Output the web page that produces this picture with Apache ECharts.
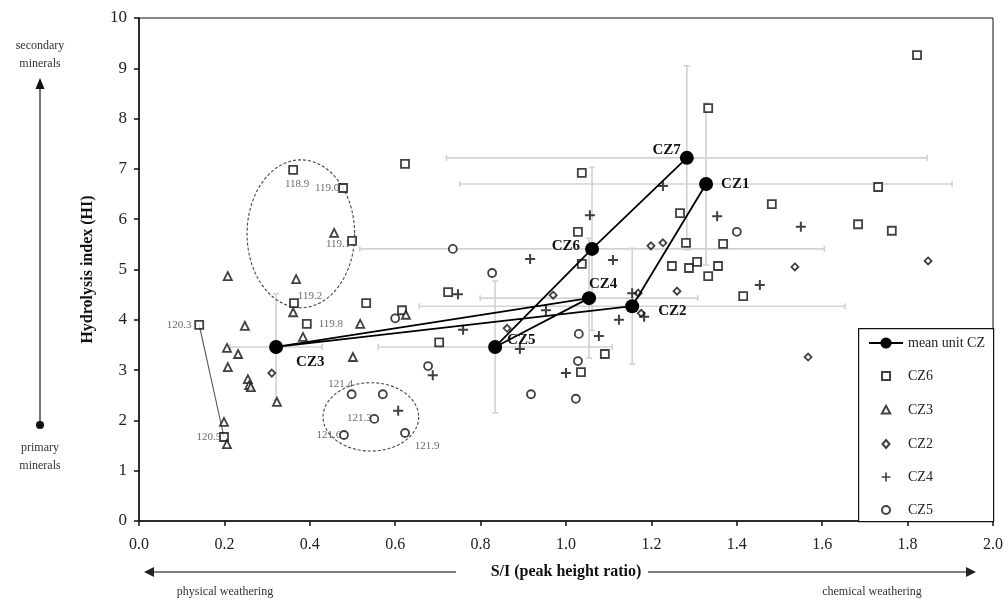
<!DOCTYPE html>
<html>
<head>
<meta charset="utf-8">
<title>Hydrolysis index vs S/I</title>
<script src="https://cdn.jsdelivr.net/npm/echarts@6/dist/echarts.min.js"></script>
<style>
html, body { margin: 0; padding: 0; background: #fff; }
#main { width: 1008px; height: 601px; }
</style>
</head>
<body>
<div id="main"></div>
<script>
// samples per unit: [S/I, HI]
var cz6 = [[1.822, 9.26], [1.333, 8.21], [0.623, 7.10], [0.361, 6.98], [0.478, 6.62], [0.499, 5.57],
  [0.363, 4.33], [0.532, 4.33], [0.393, 3.92], [0.141, 3.90], [0.199, 1.67], [0.616, 4.19],
  [0.703, 3.55], [1.037, 6.92], [1.028, 5.75], [1.037, 5.11], [0.724, 4.55], [1.267, 6.12],
  [1.482, 6.30], [1.281, 5.53], [1.368, 5.51], [1.248, 5.07], [1.288, 5.03], [1.307, 5.15],
  [1.356, 5.07], [1.333, 4.87], [1.415, 4.47], [1.091, 3.32], [1.035, 2.96], [1.684, 5.90],
  [1.731, 6.64], [1.763, 5.77]];
var cz3 = [[0.457, 5.73], [0.208, 4.87], [0.368, 4.81], [0.361, 4.15], [0.248, 3.88], [0.206, 3.44],
  [0.232, 3.32], [0.208, 3.06], [0.255, 2.82], [0.258, 2.70], [0.262, 2.66], [0.323, 2.37],
  [0.384, 3.66], [0.518, 3.92], [0.501, 3.26], [0.625, 4.10], [0.199, 1.97], [0.206, 1.53]];
var cz2 = [[0.311, 2.94], [0.862, 3.83], [0.970, 4.49], [1.199, 5.47], [1.227, 5.53], [1.260, 4.57],
  [1.169, 4.53], [1.176, 4.13], [1.536, 5.05], [1.567, 3.26], [1.848, 5.17]];
var cz4 = [[0.688, 2.90], [0.607, 2.19], [1.056, 6.08], [0.916, 5.21], [1.110, 5.19], [1.227, 6.66],
  [0.747, 4.51], [0.953, 4.19], [0.759, 3.80], [1.155, 4.53], [1.183, 4.06], [1.124, 4.00],
  [1.077, 3.68], [0.892, 3.42], [1.000, 2.94], [1.354, 6.06], [1.550, 5.85], [1.454, 4.69]];
var cz5 = [[0.498, 2.52], [0.571, 2.52], [0.551, 2.03], [0.480, 1.71], [0.623, 1.75], [0.677, 3.08],
  [0.735, 5.41], [0.827, 4.93], [1.030, 3.72], [0.600, 4.03], [1.028, 3.18], [0.918, 2.52],
  [1.023, 2.43], [1.400, 5.75]];

// unit means, in stratigraphic order
var meanNames = ['CZ1', 'CZ2', 'CZ3', 'CZ4', 'CZ5', 'CZ6', 'CZ7'];
var meanX = [1.328, 1.155, 0.321, 1.054, 0.834, 1.061, 1.283];
var meanY = [6.70, 4.27, 3.46, 4.43, 3.46, 5.41, 7.22];
var meanXErr = [0.576, 0.499, 0.108, 0.255, 0.274, 0.544, 0.563];
var meanYErr = [1.61, 1.15, 1.06, 1.19, 1.31, 1.62, 1.83];

// sample numbers written next to some points
var sampleTags = [['118.9', 0.361, 6.98], ['119.0', 0.478, 6.62], ['119.1', 0.499, 5.57],
  ['119.2', 0.363, 4.33], ['119.8', 0.393, 3.92], ['120.3', 0.141, 3.90], ['120.5', 0.199, 1.67],
  ['121.4', 0.498, 2.52], ['121.3', 0.551, 2.03], ['121.6', 0.480, 1.71], ['121.9', 0.623, 1.75]];
var tieLine = [[0.141, 3.90], [0.199, 1.67]];
// dashed ellipses: centre x, centre y, radius x, radius y
var ellipses = [[0.379, 5.71, 0.126, 1.47], [0.543, 2.07, 0.112, 0.68]];

var xTicks = [0, 0.2, 0.4, 0.6, 0.8, 1.0, 1.2, 1.4, 1.6, 1.8, 2.0];
var yTicks = [0, 1, 2, 3, 4, 5, 6, 7, 8, 9, 10];

var serif = '"Liberation Serif", "DejaVu Serif", serif';
var tagOffset = {
  '118.9': [4, 14], '119.0': [-16, 0], '119.1': [-14, 3], '119.2': [16, -7], '119.8': [24, 0],
  '120.3': [-20, 0], '120.5': [-15, 0], '121.4': [-11, -10], '121.3': [-15, -1],
  '121.6': [-15, 0], '121.9': [22, 13]
};
var meanLabel = {
  CZ1: ['right', [3, 0]], CZ2: ['right', [14, 5]], CZ3: ['right', [8, 15]], CZ4: ['top', [14, 5]],
  CZ5: ['right', [0, -7]], CZ6: ['left', [0, -3]], CZ7: ['left', [6, -8]]
};

var pad = 'M0,0M14,14';
var icons = {
  CZ6: 'path://' + pad + 'M3,3h8v8h-8Z',
  CZ3: 'path://' + pad + 'M7,2.8L11.2,10.6H2.8Z',
  CZ2: 'path://' + pad + 'M7,3L10.5,7L7,11L3.5,7Z',
  CZ4: 'path://' + pad + 'M6.2,2.6h1.6v3.6h3.6v1.6h-3.6v3.6h-1.6v-3.6h-3.6v-1.6h3.6Z',
  CZ5: 'path://' + pad + 'M3,7A4,4 0 1 1 11,7A4,4 0 1 1 3,7Z'
};
var plusPath = 'path://M4,0h2v4h4v2h-4v4h-2v-4h-4v-2h4Z';

var emptyStyle = { color: '#fff', borderColor: '#111', borderWidth: 1.8 };

function scatter(name, data, symbol, size, style) {
  return {
    name: name, type: 'scatter', data: data, symbol: symbol, symbolSize: size,
    itemStyle: style, z: 3, emphasis: { disabled: true }
  };
}

var errData = meanNames.map(function (n, i) {
  return [meanX[i], meanY[i], meanXErr[i], meanYErr[i]];
});
var meanData = meanNames.map(function (n, i) {
  return {
    name: n, value: [meanX[i], meanY[i]],
    label: { position: meanLabel[n][0], offset: meanLabel[n][1] }
  };
});
var tagData = sampleTags.map(function (t) {
  return { name: t[0], value: [t[1], t[2]], label: { offset: tagOffset[t[0]] } };
});

var myChart = echarts.init(document.getElementById('main'));
var option = {
  animation: false,
  backgroundColor: '#fff',
  textStyle: { fontFamily: serif },
  grid: { left: 139, right: 15, top: 18, bottom: 80, show: true, borderColor: '#111', borderWidth: 1 },
  xAxis: {
    type: 'value', min: xTicks[0], max: xTicks[xTicks.length - 1], interval: 0.2,
    name: 'S/I (peak height ratio)', nameLocation: 'middle', nameGap: 43,
    nameTextStyle: { fontFamily: serif, fontSize: 16, fontWeight: 'bold', color: '#111',
      backgroundColor: '#fff', padding: [0, 6, 0, 6] },
    axisLine: { lineStyle: { color: '#111', width: 1.5 } },
    axisTick: { length: 5, lineStyle: { color: '#111', width: 1.5 } },
    axisLabel: { fontFamily: serif, fontSize: 16, color: '#222', margin: 16,
      formatter: function (v) { return v.toFixed(1); } },
    splitLine: { show: false }
  },
  yAxis: {
    type: 'value', min: yTicks[0], max: yTicks[yTicks.length - 1], interval: 1,
    name: 'Hydrolysis index (HI)', nameLocation: 'middle', nameGap: 43,
    nameTextStyle: { fontFamily: serif, fontSize: 16, fontWeight: 'bold', color: '#111' },
    axisLine: { lineStyle: { color: '#111', width: 1.5 } },
    axisTick: { length: 5, lineStyle: { color: '#111', width: 1.5 } },
    axisLabel: { fontFamily: serif, fontSize: 17, color: '#222', margin: 12 },
    splitLine: { show: false }
  },
  legend: {
    orient: 'vertical', left: 868, top: 336, itemGap: 18, itemWidth: 34, itemHeight: 14,
    padding: 0, z: 5, selectedMode: false,
    textStyle: { fontFamily: serif, fontSize: 14, color: '#222' },
    data: [
      { name: 'mean unit CZ' },
      { name: 'CZ6', icon: icons.CZ6 },
      { name: 'CZ3', icon: icons.CZ3 },
      { name: 'CZ2', icon: icons.CZ2 },
      { name: 'CZ4', icon: icons.CZ4 },
      { name: 'CZ5', icon: icons.CZ5 }
    ]
  },
  graphic: [
    { type: 'rect', left: 858, top: 328, z: 4, shape: { width: 135, height: 193 },
      style: { fill: '#fff', stroke: '#111', lineWidth: 1.2 } },
    // weathering arrow under the x axis
    { type: 'line', shape: { x1: 150, y1: 572, x2: 456, y2: 572 }, style: { stroke: '#555', lineWidth: 1.5 } },
    { type: 'line', shape: { x1: 648, y1: 572, x2: 970, y2: 572 }, style: { stroke: '#555', lineWidth: 1.5 } },
    { type: 'polygon', shape: { points: [[144, 572], [154, 567], [154, 577]] }, style: { fill: '#222' } },
    { type: 'polygon', shape: { points: [[976, 572], [966, 567], [966, 577]] }, style: { fill: '#222' } },
    { type: 'text', x: 225, y: 592, style: { text: 'physical weathering', font: '12px ' + serif,
      fill: '#333', align: 'center', verticalAlign: 'middle' } },
    { type: 'text', x: 872, y: 592, style: { text: 'chemical weathering', font: '12px ' + serif,
      fill: '#333', align: 'center', verticalAlign: 'middle' } },
    // mineral arrow on the left
    { type: 'line', shape: { x1: 40, y1: 425, x2: 40, y2: 86 }, style: { stroke: '#444', lineWidth: 1.5 } },
    { type: 'polygon', shape: { points: [[40, 78], [35.5, 89], [44.5, 89]] }, style: { fill: '#111' } },
    { type: 'circle', shape: { cx: 40, cy: 425, r: 4 }, style: { fill: '#111' } },
    { type: 'text', x: 40, y: 55, style: { text: 'secondary\nminerals', font: '12px ' + serif,
      fill: '#333', align: 'center', verticalAlign: 'middle', lineHeight: 18 } },
    { type: 'text', x: 40, y: 457, style: { text: 'primary\nminerals', font: '12px ' + serif,
      fill: '#333', align: 'center', verticalAlign: 'middle', lineHeight: 18 } }
  ],
  series: [
    {
      name: 'err', type: 'custom', data: errData, z: 1, silent: true,
      renderItem: function (params, api) {
        var x = api.value(0), y = api.value(1), xe = api.value(2), ye = api.value(3);
        var l = api.coord([x - xe, y]), r = api.coord([x + xe, y]);
        var t = api.coord([x, y + ye]), b = api.coord([x, y - ye]);
        var st = { stroke: '#d2d2d2', lineWidth: 1.6 };
        var c = 3;
        return {
          type: 'group', children: [
            { type: 'line', shape: { x1: l[0], y1: l[1], x2: r[0], y2: r[1] }, style: st },
            { type: 'line', shape: { x1: t[0], y1: t[1], x2: b[0], y2: b[1] }, style: st },
            { type: 'line', shape: { x1: t[0] - c, y1: t[1], x2: t[0] + c, y2: t[1] }, style: st },
            { type: 'line', shape: { x1: b[0] - c, y1: b[1], x2: b[0] + c, y2: b[1] }, style: st },
            { type: 'line', shape: { x1: l[0], y1: l[1] - c, x2: l[0], y2: l[1] + c }, style: st },
            { type: 'line', shape: { x1: r[0], y1: r[1] - c, x2: r[0], y2: r[1] + c }, style: st }
          ]
        };
      }
    },
    {
      name: 'ellipse', type: 'custom', data: ellipses, z: 2, silent: true,
      renderItem: function (params, api) {
        var ctr = api.coord([api.value(0), api.value(1)]);
        var s = api.size([api.value(2), api.value(3)]);
        var pts = [];
        for (var k = 0; k < 90; k++) {
          var a = k / 90 * Math.PI * 2;
          pts.push([ctr[0] + s[0] * Math.cos(a), ctr[1] + s[1] * Math.sin(a)]);
        }
        return { type: 'polygon', shape: { points: pts },
          style: { fill: 'none', stroke: '#444', lineWidth: 1.1, lineDash: [3, 2] } };
      }
    },
    {
      name: 'tie', type: 'line', data: tieLine, symbol: 'none', z: 2, silent: true,
      lineStyle: { color: '#555', width: 1.1 }
    },
    scatter('CZ6', cz6, 'rect', 8, emptyStyle),
    scatter('CZ3', cz3, 'triangle', 8, emptyStyle),
    scatter('CZ2', cz2, 'diamond', 7, emptyStyle),
    scatter('CZ4', cz4, plusPath, 10, { color: '#111' }),
    scatter('CZ5', cz5, 'circle', 8, emptyStyle),
    {
      name: 'tags', type: 'scatter', data: tagData, symbolSize: 1, z: 3, silent: true,
      itemStyle: { color: 'rgba(0,0,0,0)' },
      label: { show: true, position: 'inside', formatter: '{b}',
        fontFamily: serif, fontSize: 11, color: '#444' }
    },
    {
      name: 'mean unit CZ', type: 'line', data: meanData, z: 6,
      symbol: 'circle', symbolSize: 14,
      itemStyle: { color: '#000' },
      lineStyle: { color: '#000', width: 1.8 },
      label: { show: true, formatter: '{b}', fontFamily: serif, fontSize: 15,
        fontWeight: 'bold', color: '#111' },
      emphasis: { disabled: true }
    }
  ]
};
myChart.setOption(option);
</script>
</body>
</html>
